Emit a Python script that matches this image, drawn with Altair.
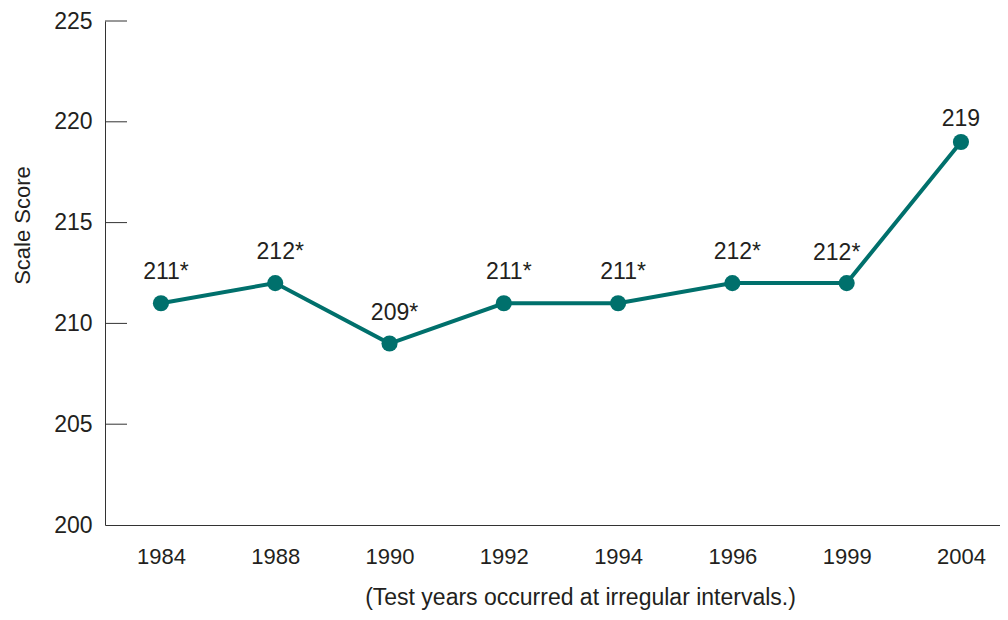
import altair as alt
import pandas as pd

years = ["1984", "1988", "1990", "1992", "1994", "1996", "1999", "2004"]
scores = [211, 212, 209, 211, 211, 212, 212, 219]
labels = ["211*", "212*", "209*", "211*", "211*", "212*", "212*", "219"]
y_ticks = [200, 205, 210, 215, 220, 225]

df = pd.DataFrame({"year": years, "score": scores, "label": labels})
ticks_df = pd.DataFrame({"v": y_ticks[1:]})

TEAL = "#00706c"
TXT = "#231f20"
FONT = "Liberation Sans"

x_enc = alt.X(
    "year:O",
    sort=years,
    scale=alt.Scale(type="point", padding=0.4156, align=0.589),
    axis=alt.Axis(
        title="(Test years occurred at irregular intervals.)",
        labelAngle=0,
        ticks=False,
        labelPadding=31,
        labelFontSize=22,
        titleFontSize=23,
        titleFontWeight="normal",
        titleX=475,
        titleY=72,
        titleBaseline="middle",
        labelBaseline="middle",
        domainColor="#333333",
    ),
)
y_scale = alt.Scale(domain=[200, 225], nice=False, zero=False)
y_enc = alt.Y(
    "score:Q",
    scale=y_scale,
    axis=alt.Axis(
        title="Scale Score",
        values=y_ticks,
        ticks=False,
        grid=False,
        labelPadding=13,
        labelFontSize=23,
        titleFontSize=22,
        titleFontWeight="normal",
        titleX=-83,
        titleY=204,
        titleBaseline="middle",
        domainColor="#333333",
    ),
)

base = alt.Chart(df)
line = base.mark_line(color=TEAL, strokeWidth=4).encode(x=x_enc, y=y_enc)
pts = base.mark_circle(color=TEAL, size=260, opacity=1).encode(x=x_enc, y=y_enc)
txt_main = base.transform_filter(
    "datum.year != '2004' && datum.year != '1999'"
).mark_text(font=FONT, fontSize=23, color=TXT, dx=5, dy=-24, baseline="alphabetic").encode(
    x=x_enc, y=y_enc, text="label:N"
)
txt_1999 = base.transform_filter("datum.year == '1999'").mark_text(
    font=FONT, fontSize=23, color=TXT, dx=-10, dy=-23, baseline="alphabetic"
).encode(x=x_enc, y=y_enc, text="label:N")
txt_2004 = base.transform_filter("datum.year == '2004'").mark_text(
    font=FONT, fontSize=23, color=TXT, dx=0, dy=-16, baseline="alphabetic"
).encode(x=x_enc, y=y_enc, text="label:N")

tick_rules = alt.Chart(ticks_df).mark_rule(color="#333333", strokeWidth=1).encode(
    y=alt.Y("v:Q", scale=y_scale), x=alt.value(0), x2=alt.value(22)
)

chart = (
    alt.layer(tick_rules, line, pts, txt_main, txt_1999, txt_2004)
    .properties(
        width=895,
        height=504,
        autosize=alt.AutoSizeParams(type="none"),
        padding={"left": 97, "top": 13, "right": 0, "bottom": 86},
    )
    .configure_view(stroke=None)
    .configure_axis(
        labelFont=FONT,
        titleFont=FONT,
        labelColor=TXT,
        titleColor=TXT,
    )
)

chart.save("out.html", embed_options={"renderer": "svg", "actions": False})
